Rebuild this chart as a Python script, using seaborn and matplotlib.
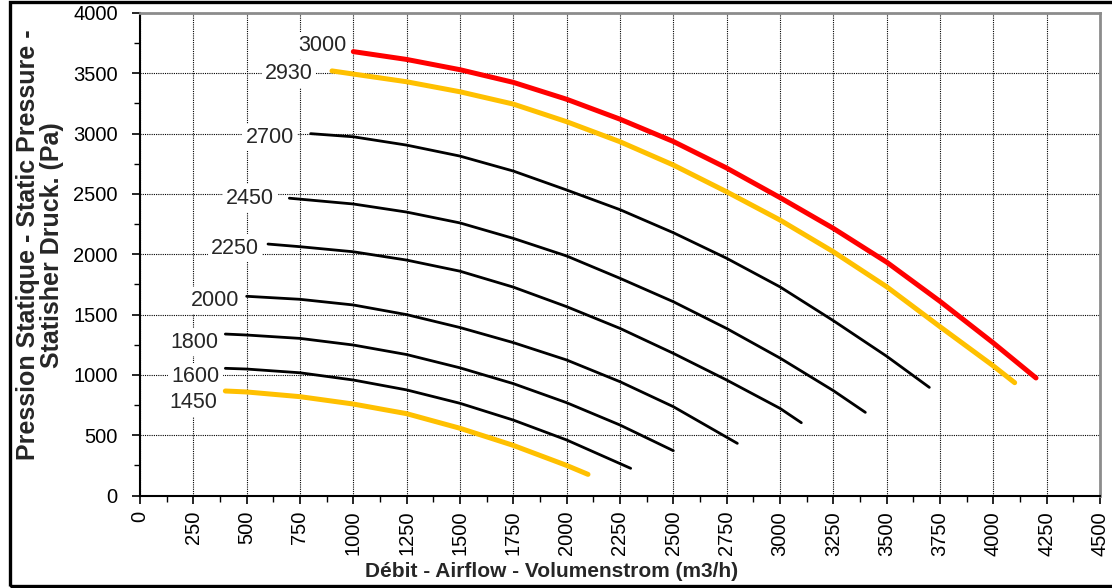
import matplotlib.pyplot as plt
import matplotlib.patches as mpatches
import numpy as np
import pandas as pd
import seaborn as sns

# fan speeds (rpm) and curve data
speeds = ["3000", "2930", "2700", "2450", "2250", "2000", "1800", "1600", "1450"]

airflow_3000 = [1000, 1250, 1500, 1750, 2000, 2250, 2500, 2750, 3000, 3250, 3500, 3750, 4000, 4200]
pressure_3000 = [3680, 3615, 3530, 3425, 3285, 3120, 2935, 2715, 2470, 2215, 1935, 1610, 1265, 975]

airflow_2930 = [900, 1000, 1250, 1500, 1750, 2000, 2250, 2500, 2750, 3000, 3250, 3500, 3750, 4000, 4100]
pressure_2930 = [3520, 3494, 3430, 3347, 3245, 3099, 2933, 2740, 2518, 2284, 2021, 1731, 1400, 1075, 936]

airflow_2700 = [800, 1000, 1250, 1500, 1750, 2000, 2250, 2500, 2750, 3000, 3250, 3500, 3700]
pressure_2700 = [3000, 2974, 2905, 2814, 2690, 2533, 2370, 2179, 1967, 1730, 1450, 1155, 897]

airflow_2450 = [700, 1000, 1250, 1500, 1750, 2000, 2250, 2500, 2750, 3000, 3250, 3400]
pressure_2450 = [2465, 2417, 2350, 2260, 2132, 1986, 1801, 1607, 1385, 1140, 870, 690]

airflow_2250 = [600, 750, 1000, 1250, 1500, 1750, 2000, 2250, 2500, 2750, 3000, 3100]
pressure_2250 = [2085, 2063, 2021, 1952, 1860, 1728, 1566, 1386, 1179, 958, 723, 604]

airflow_2000 = [500, 750, 1000, 1250, 1500, 1750, 2000, 2250, 2500, 2800]
pressure_2000 = [1652, 1627, 1580, 1500, 1393, 1268, 1124, 944, 737, 433]

airflow_1800 = [400, 500, 750, 1000, 1250, 1500, 1750, 2000, 2250, 2500]
pressure_1800 = [1339, 1331, 1303, 1248, 1169, 1059, 928, 770, 585, 372]

airflow_1600 = [400, 500, 750, 1000, 1250, 1500, 1750, 2000, 2300]
pressure_1600 = [1055, 1049, 1018, 958, 876, 765, 626, 461, 226]

airflow_1450 = [400, 500, 750, 1000, 1250, 1500, 1750, 2000, 2100]
pressure_1450 = [867, 859, 820, 759, 679, 558, 416, 250, 176]

curves = {
    "3000": (airflow_3000, pressure_3000),
    "2930": (airflow_2930, pressure_2930),
    "2700": (airflow_2700, pressure_2700),
    "2450": (airflow_2450, pressure_2450),
    "2250": (airflow_2250, pressure_2250),
    "2000": (airflow_2000, pressure_2000),
    "1800": (airflow_1800, pressure_1800),
    "1600": (airflow_1600, pressure_1600),
    "1450": (airflow_1450, pressure_1450),
}

x_ticks = list(range(0, 4501, 250))
y_ticks = list(range(0, 4001, 500))

df = pd.concat(
    [pd.DataFrame({"speed": s, "airflow": q, "pressure": p}) for s, (q, p) in curves.items()],
    ignore_index=True,
)

sns.set_theme(style="ticks")
plt.rcParams["font.family"] = ["Liberation Sans", "DejaVu Sans"]

colors = {"3000": "#FF0000", "2930": "#FFC000", "1450": "#FFC000"}
# label offsets from the curve start, in pixels
label_offsets = {
    "3000": (-7, 6), "2930": (-19, -3), "2700": (-17, -4), "2450": (-15, 0),
    "2250": (-9, -4), "2000": (-7, -4), "1800": (-7, -8), "1600": (-6, -8),
    "1450": (-8, -12),
}

fig = plt.figure(figsize=(11.12, 5.88), dpi=100)
ax = fig.add_axes([140 / 1112, 1 - 495.6 / 588, 960 / 1112, 482.6 / 588])

for s in speeds:
    sub = df[df["speed"] == s]
    color = colors.get(s, "black")
    lw = 3.6 if s in colors else 2.0
    sns.lineplot(data=sub, x="airflow", y="pressure", ax=ax, color=color,
                 linewidth=lw, sort=False, solid_capstyle="round", zorder=3)
    dx, dy = label_offsets[s]
    ax.annotate(s, xy=(sub["airflow"].iloc[0], sub["pressure"].iloc[0]),
                xytext=(dx, dy), textcoords="offset pixels", ha="right", va="center",
                fontsize=15.5, zorder=4,
                bbox=dict(boxstyle="square,pad=0.15", fc="white", ec="none"))

ax.set_xlim(0, 4500)
ax.set_ylim(0, 4000)
ax.set_xticks(x_ticks)
ax.set_yticks(y_ticks)
ax.set_xticks(np.arange(0, 4501, 125), minor=True)
ax.set_yticks(np.arange(0, 4001, 250), minor=True)
ax.tick_params(axis="x", which="major", direction="out", length=6, width=1.2,
               labelsize=14.5, labelrotation=90, pad=5, colors="black")
ax.tick_params(axis="y", which="major", direction="out", length=6, width=1.2,
               labelsize=14.5, pad=10, colors="black")
ax.tick_params(which="minor", direction="out", length=4, width=1.0, colors="black")

ax.grid(True, which="major", color="black", linestyle=(0, (1, 1)), linewidth=0.8)
ax.set_axisbelow(True)

for side in ["left", "bottom"]:
    ax.spines[side].set_color("black")
    ax.spines[side].set_linewidth(1.5)
for side in ["top", "right"]:
    ax.spines[side].set_color("#8c8c8c")
    ax.spines[side].set_linewidth(2.0)

ax.set_xlabel("Débit - Airflow - Volumenstrom (m3/h)", fontsize=15, fontweight="bold",
              va="center")
ax.xaxis.set_label_coords(0.429, -0.158)
ax.set_ylabel("Pression Statique - Static Pressure -\nStatisher Druck. (Pa)", fontsize=18,
              fontweight="bold", va="center", ha="center", linespacing=1.0)
ax.yaxis.set_label_coords(-0.104, 0.52)

fig.patches.append(mpatches.Rectangle((10 / 1112, 0.004), 1.0, 0.993, transform=fig.transFigure,
                                      fill=False, ec="black", lw=2.4))

fig.savefig("out.png", dpi=100)
